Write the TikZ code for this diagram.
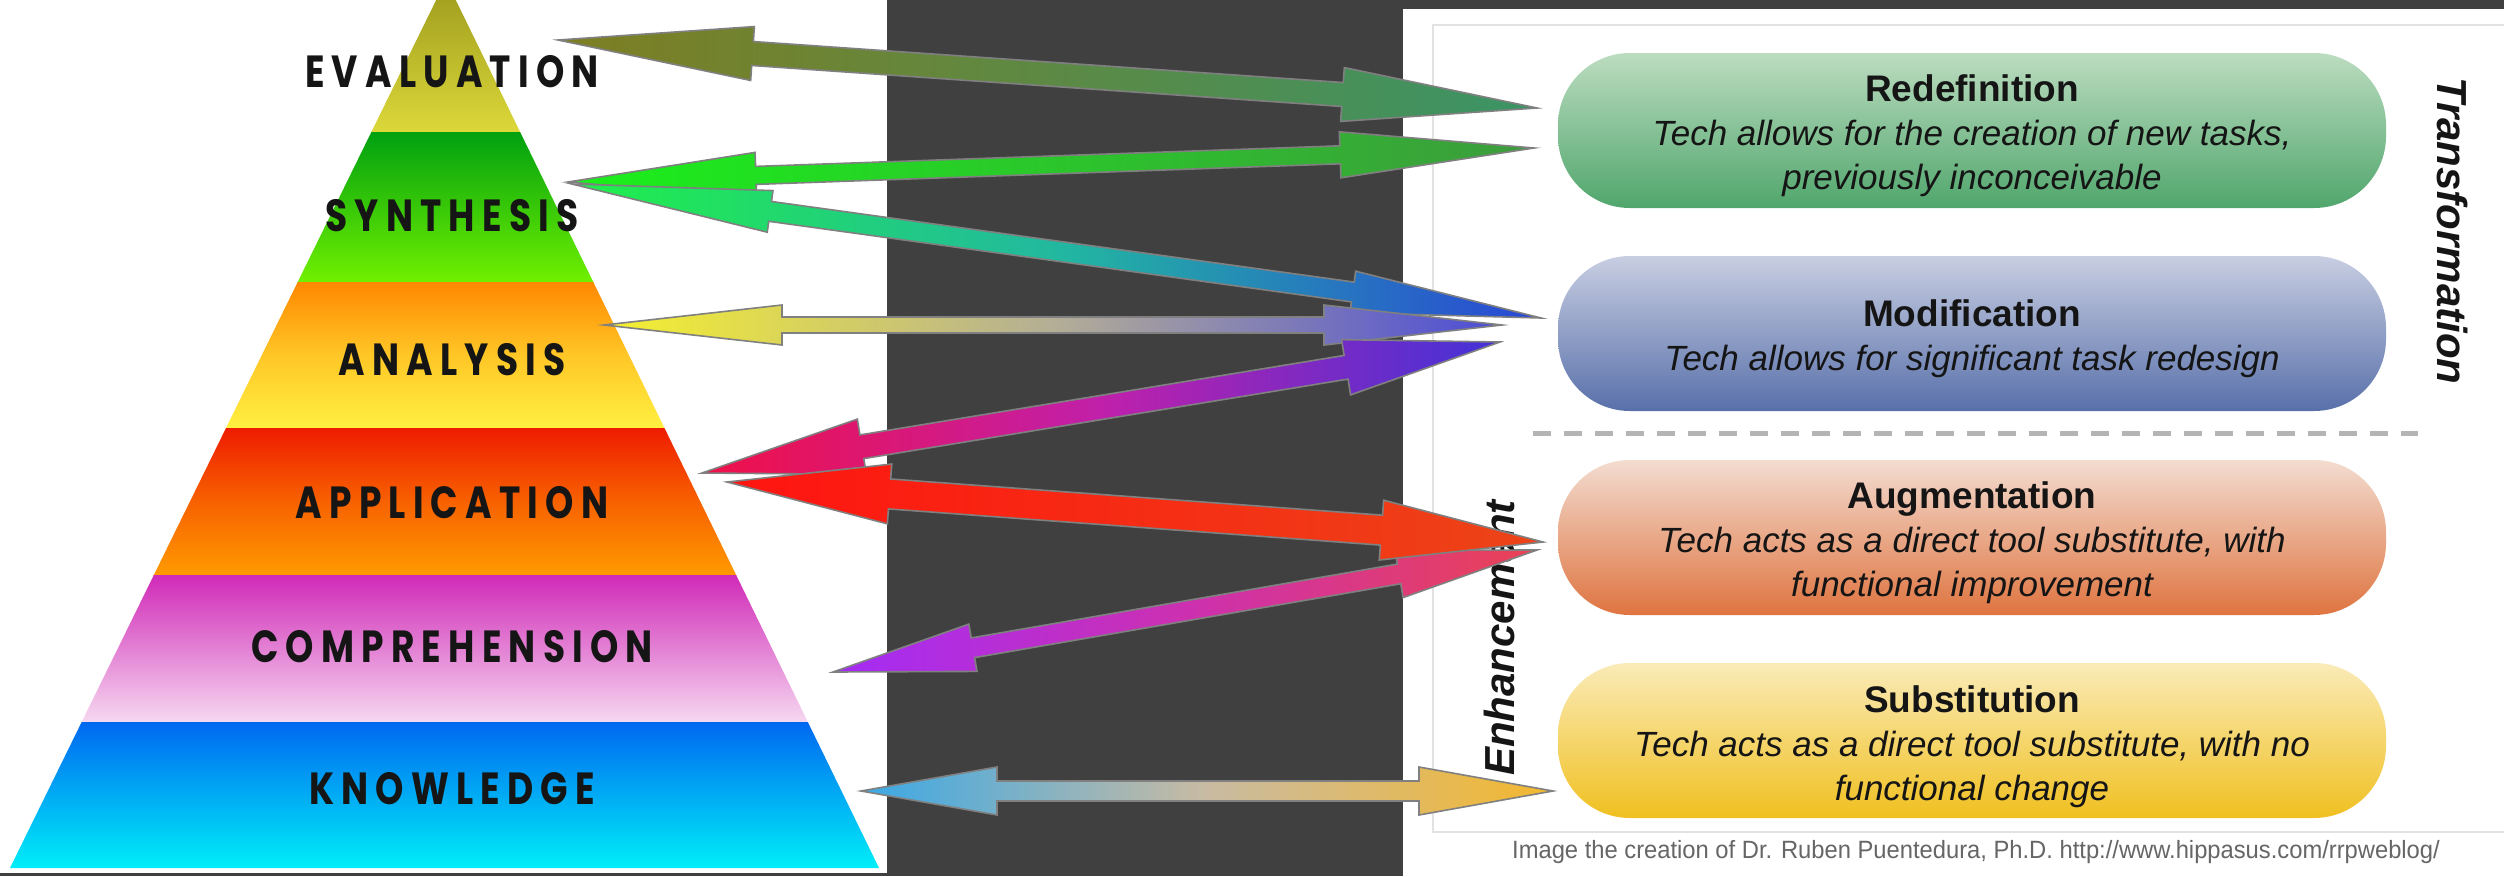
\documentclass[tikz,border=0pt]{standalone}
\usepackage{fontspec}
\setmainfont{Liberation Sans}
\newfontfamily\pyrfont{Poppins}[FakeStretch=0.8,LetterSpace=16]
\newfontfamily\capfont{Liberation Sans}[FakeStretch=0.95]
\usetikzlibrary{calc}
\definecolor{darkbg}{HTML}{404040}
\definecolor{framegray}{HTML}{E2E2E2}
\definecolor{dashgray}{HTML}{B4B4B4}
\definecolor{arrgray}{HTML}{808080}
\definecolor{txtdark}{HTML}{151515}
\definecolor{capgray}{HTML}{666666}
% pyramid
\definecolor{evT}{HTML}{9C9A1C}\definecolor{evB}{HTML}{DCD83A}
\definecolor{syT}{HTML}{00A010}\definecolor{syB}{HTML}{70F000}
\definecolor{anT}{HTML}{FF8800}\definecolor{anB}{HTML}{FFF040}
\definecolor{apT}{HTML}{EE1C00}\definecolor{apB}{HTML}{FF9A00}
\definecolor{coT}{HTML}{D02AB8}\definecolor{coB}{HTML}{F6D8F0}
\definecolor{knT}{HTML}{0068F0}\definecolor{knB}{HTML}{00F0F8}
% pills
\definecolor{reT}{HTML}{BCDCC0}\definecolor{reB}{HTML}{50A66C}
\definecolor{moT}{HTML}{C8CEE2}\definecolor{moB}{HTML}{5870AA}
\definecolor{auT}{HTML}{F3DCD0}\definecolor{auB}{HTML}{DF7440}
\definecolor{suT}{HTML}{FAEBB8}\definecolor{suB}{HTML}{F0C020}
% arrows
\definecolor{aOneL}{HTML}{7E7E22}\definecolor{aOneR}{HTML}{3B9466}
\definecolor{aTwoL}{HTML}{1AF01A}\definecolor{aTwoR}{HTML}{3C9C3C}
\definecolor{aThrL}{HTML}{20F048}\definecolor{aThrM}{HTML}{22B8A0}\definecolor{aThrR}{HTML}{2A46D6}
\definecolor{aFouL}{HTML}{F6F02E}\definecolor{aFouM}{HTML}{B4AE96}\definecolor{aFouR}{HTML}{4C4CD6}
\definecolor{aFivL}{HTML}{F01048}\definecolor{aFivM}{HTML}{C020AA}\definecolor{aFivR}{HTML}{4232D8}
\definecolor{aSixL}{HTML}{FF1410}\definecolor{aSixR}{HTML}{EC4418}
\definecolor{aSevL}{HTML}{A42CF6}\definecolor{aSevM}{HTML}{CC30B0}\definecolor{aSevR}{HTML}{EA4254}
\definecolor{aEigL}{HTML}{3AA8E6}\definecolor{aEigM}{HTML}{C9BBA2}\definecolor{aEigR}{HTML}{F4B82E}

% #1 left tip, #2 right tip, #3 head length at #1, #4 head length at #2,
% #5 head half width, #6 shaft half width, #7 shading options
\newcommand{\blockarr}[7]{%
  \coordinate (ha) at ($(#1)!#3!(#2)$);
  \coordinate (hb) at ($(#2)!#4!(#1)$);
  \shadedraw[arrowline,#7] (#1) -- ($(ha)!#5!90:(#2)$) -- ($(ha)!#6!90:(#2)$)
    -- ($(hb)!#6!-90:(#1)$) -- ($(hb)!#5!-90:(#1)$) -- (#2)
    -- ($(hb)!#5!90:(#1)$) -- ($(hb)!#6!90:(#1)$)
    -- ($(ha)!#6!-90:(#2)$) -- ($(ha)!#5!-90:(#2)$) -- cycle;
}

\begin{document}
\begin{tikzpicture}[x=1pt,y=-1pt,
  pyr/.style={font=\pyrfont\bfseries\fontsize{45}{50}\selectfont, text=txtdark, inner sep=0pt},
  pill/.style={rounded corners=72pt, minimum width=828pt, minimum height=155pt, inner sep=0pt},
  pilltext/.style={align=center, inner sep=0pt, text=txtdark, font=\fontsize{35}{44}\selectfont},
  arrowline/.style={draw=arrgray, line width=1.6pt, line join=miter},
  side/.style={font=\bfseries\itshape\fontsize{42}{50}\selectfont, text=txtdark, inner sep=0pt}
]
\useasboundingbox (0,0) rectangle (2504,876);
% backgrounds
\fill[darkbg] (0,0) rectangle (2504,876);
\fill[white] (0,0) rectangle (887,873);
\fill[white] (1403,9) rectangle (2504,876);
\draw[framegray, line width=2pt] (1433,25) rectangle (2520,832);

% pyramid
\coordinate (apex) at (446,-20);
\coordinate (bl) at (10,868);
\coordinate (br) at (879,868);
\begin{scope}
  \clip (apex) -- (bl) -- (br) -- cycle;
  \shade[top color=evT, bottom color=evB] (0,-20) rectangle (900,132);
  \shade[top color=syT, bottom color=syB] (0,132) rectangle (900,282);
  \shade[top color=anT, bottom color=anB, middle color=anT!40!anB] (0,282) rectangle (900,428);
  \shade[top color=apT, bottom color=apB, middle color=apT!45!apB] (0,428) rectangle (900,575);
  \shade[top color=coT, bottom color=coB] (0,575) rectangle (900,722);
  \shade[top color=knT, bottom color=knB] (0,722) rectangle (900,870);
\end{scope}
\node[pyr] (evaluation) at (452,72) {EVALUATION};
\node[pyr] (synthesis) at (452,216) {SYNTHESIS};
\node[pyr] (analysis) at (452,360) {ANALYSIS};
\node[pyr] (application) at (452,503) {APPLICATION};
\node[pyr] (comprehension) at (452,647) {COMPREHENSION};
\node[pyr] (knowledge) at (452,789) {KNOWLEDGE};

% SAMR pills
\node[pill, top color=reT, bottom color=reB] (redefinition) at (1972,130.5) {};
\node[pill, top color=moT, bottom color=moB] (modification) at (1972,333.5) {};
\node[pill, top color=auT, bottom color=auB] (augmentation) at (1972,537.5) {};
\node[pill, top color=suT, bottom color=suB] (substitution) at (1972,740.5) {};
\node[pilltext] (redeftext) at ($(redefinition.center)+(0,5)$)
  {{\bfseries\fontsize{37}{44}\selectfont Redefinition}\\
   {\itshape Tech allows for the creation of new tasks,}\\
   {\itshape previously inconceivable}};
\node[pilltext] (modiftext) at ($(modification.center)+(0,5)$)
  {{\bfseries\fontsize{37}{44}\selectfont Modification}\\
   {\itshape Tech allows for significant task redesign}};
\node[pilltext] (augtext) at ($(augmentation.center)+(0,5)$)
  {{\bfseries\fontsize{37}{44}\selectfont Augmentation}\\
   {\itshape Tech acts as a direct tool substitute, with}\\
   {\itshape functional improvement}};
\node[pilltext] (substext) at ($(substitution.center)+(0,6)$)
  {{\bfseries\fontsize{37}{44}\selectfont Substitution}\\
   {\itshape Tech acts as a direct tool substitute, with no}\\
   {\itshape functional change}};
\draw[dashgray, line width=5pt, dash pattern=on 18pt off 13pt] (1533,433) -- (2418,433);
\node[side, rotate=-90] (transformation) at (2452,231) {Transformation};
\node[side, rotate=90] (enhancement) at (1499,638) {Enhancement};
\node[font=\capfont\fontsize{25}{28}\selectfont, text=capgray, inner sep=0pt] (caption) at (1976,852)
  {Image the creation of Dr. Ruben Puentedura, Ph.D. http://www.hippasus.com/rrpweblog/};

% arrow end points
\coordinate (t1l) at (558,40);   \coordinate (t1r) at (1537,108);
\coordinate (t2l) at (568,182);  \coordinate (t2r) at (1534,148);
\coordinate (t3l) at (572,184);  \coordinate (t3r) at (1541,318);
\coordinate (t4l) at (604,325);  \coordinate (t4r) at (1502,325);
\coordinate (t5l) at (702,473);  \coordinate (t5r) at (1500,342);
\coordinate (t6l) at (727,482);  \coordinate (t6r) at (1543,542);
\coordinate (t7l) at (833,672);  \coordinate (t7r) at (1537,550);
\coordinate (t8l) at (861,791);  \coordinate (t8r) at (1553,791);

\blockarr{t1l}{t1r}{195pt}{195pt}{27pt}{12pt}{left color=aOneL, right color=aOneR}
\blockarr{t2l}{t2r}{188pt}{194pt}{23pt}{9pt}{left color=aTwoL, right color=aTwoR}
\blockarr{t3l}{t3r}{200pt}{190pt}{21pt}{10pt}{left color=aThrL, right color=aThrR, middle color=aThrM}
\blockarr{t4l}{t4r}{178pt}{178pt}{20pt}{8pt}{left color=aFouL, right color=aFouR, middle color=aFouM}
\blockarr{t5l}{t5r}{162pt}{156pt}{28pt}{12pt}{left color=aFivL, right color=aFivR, middle color=aFivM}
\blockarr{t7l}{t7r}{142pt}{140pt}{24pt}{10pt}{left color=aSevL, right color=aSevR, middle color=aSevM}
\blockarr{t6l}{t6r}{163pt}{162pt}{30pt}{15pt}{left color=aSixL, right color=aSixR}
\blockarr{t8l}{t8r}{136pt}{134pt}{24pt}{10pt}{left color=aEigL, right color=aEigR, middle color=aEigM}
\end{tikzpicture}
\end{document}
